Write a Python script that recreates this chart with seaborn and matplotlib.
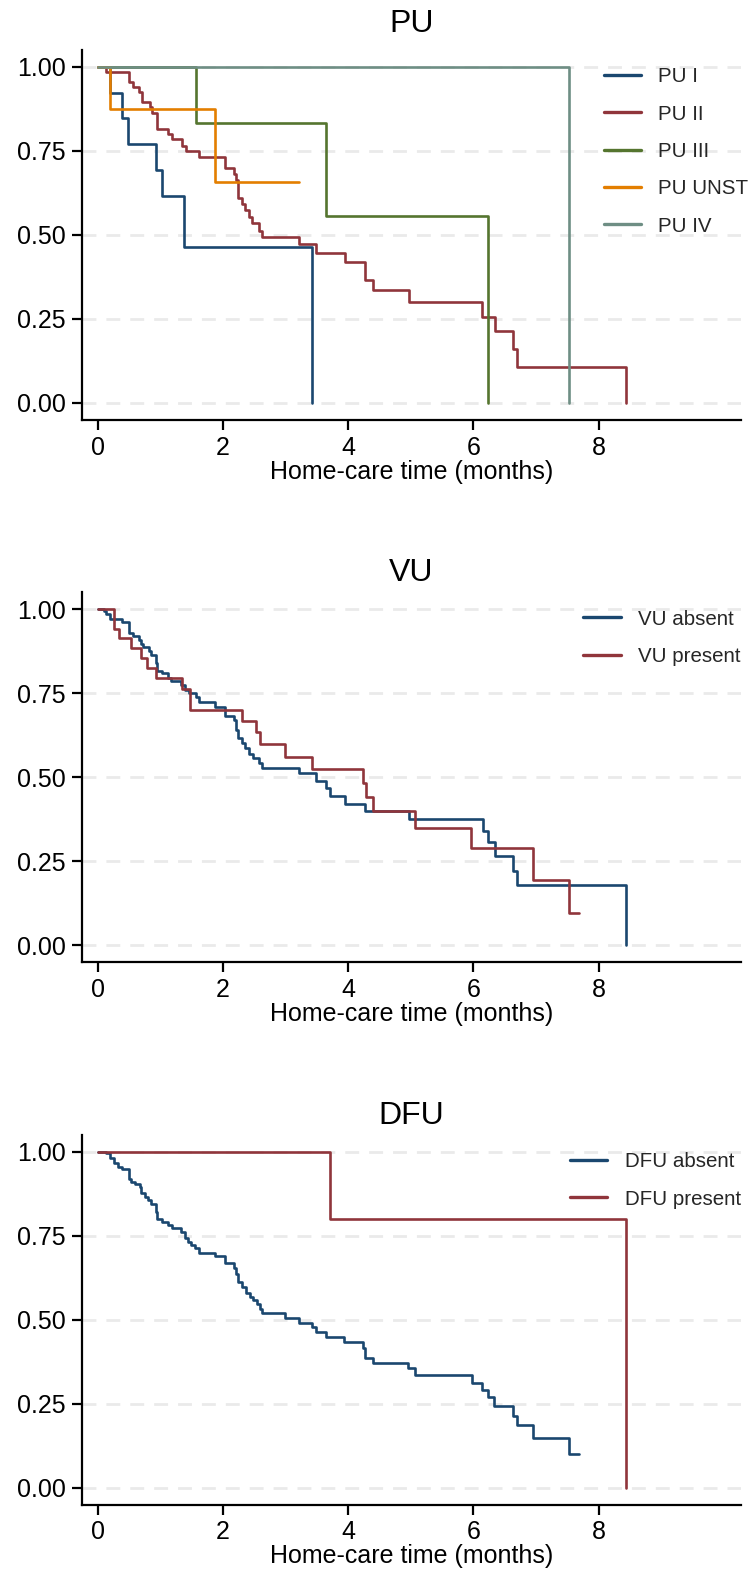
import numpy as np
import pandas as pd
import matplotlib
matplotlib.use("Agg")
import matplotlib.pyplot as plt
import seaborn as sns
from matplotlib.ticker import FormatStrFormatter, FixedLocator

# ---------------- data ----------------
pu1_t = [0, 0.19, 0.39, 0.49, 0.93, 1.02, 1.38, 3.42]
pu1_s = [1, 0.923, 0.846, 0.769, 0.692, 0.615, 0.462, 0]

pu2_t = [0, 0.13, 0.50, 0.56, 0.66, 0.71, 0.83, 0.87, 0.95, 1.12, 1.19, 1.34, 1.41, 1.61,
         2.04, 2.17, 2.21, 2.24, 2.30, 2.36, 2.41, 2.47, 2.57, 2.63, 3.22, 3.49, 3.95,
         4.27, 4.40, 4.97, 6.14, 6.34, 6.63, 6.70, 8.44]
pu2_s = [1, 0.985, 0.955, 0.94, 0.926, 0.896, 0.879, 0.863, 0.815, 0.80, 0.784, 0.764, 0.749, 0.732,
         0.70, 0.68, 0.663, 0.61, 0.59, 0.573, 0.554, 0.534, 0.511, 0.492, 0.471, 0.446, 0.42,
         0.365, 0.335, 0.30, 0.256, 0.213, 0.16, 0.107, 0]

pu3_t = [0, 1.57, 3.65, 6.24]
pu3_s = [1, 0.833, 0.556, 0]

puu_t = [0, 0.20, 1.87, 3.21]
puu_s = [1, 0.875, 0.656, 0.656]

pu4_t = [0, 7.52]
pu4_s = [1, 0]

vua_t = [0, 0.096, 0.138, 0.202, 0.394, 0.50, 0.564, 0.66, 0.686, 0.723, 0.819, 0.856, 0.926,
         0.952, 1.032, 1.122, 1.176, 1.335, 1.388, 1.457, 1.574, 1.612, 1.878, 2.037, 2.17,
         2.213, 2.239, 2.303, 2.356, 2.41, 2.479, 2.569, 2.628, 3.223, 3.489, 3.649, 3.713,
         3.952, 4.277, 4.97, 6.15, 6.24, 6.34, 6.63, 6.69, 8.44]
vua_s = [1, 0.995, 0.985, 0.970, 0.960, 0.929, 0.919, 0.909, 0.897, 0.886, 0.875, 0.863, 0.84,
         0.817, 0.81, 0.796, 0.786, 0.774, 0.759, 0.749, 0.737, 0.724, 0.709, 0.683, 0.67,
         0.64, 0.615, 0.60, 0.585, 0.57, 0.558, 0.543, 0.528, 0.511, 0.489, 0.466, 0.443,
         0.42, 0.40, 0.374, 0.34, 0.306, 0.266, 0.221, 0.179, 0]

vup_t = [0, 0.26, 0.34, 0.53, 0.69, 0.79, 0.93, 1.35, 1.47, 2.30, 2.53, 2.60, 2.99, 3.42,
         4.24, 4.28, 4.40, 5.06, 5.97, 6.96, 7.52, 7.68]
vup_s = [1, 0.942, 0.913, 0.885, 0.855, 0.825, 0.796, 0.762, 0.701, 0.668, 0.633, 0.598, 0.56, 0.523,
         0.483, 0.441, 0.40, 0.347, 0.29, 0.193, 0.096, 0.096]

dfa_t = [0, 0.128, 0.202, 0.261, 0.324, 0.394, 0.50, 0.537, 0.59, 0.67, 0.697, 0.75, 0.803, 0.846,
         0.926, 0.952, 1.032, 1.122, 1.186, 1.335, 1.388, 1.441, 1.495, 1.548, 1.612, 1.878,
         2.037, 2.17, 2.202, 2.239, 2.303, 2.372, 2.426, 2.479, 2.543, 2.585, 2.628, 2.995,
         3.223, 3.42, 3.489, 3.649, 3.94, 4.23, 4.27, 4.40, 4.96, 5.06, 5.98, 6.14, 6.24,
         6.33, 6.63, 6.70, 6.96, 7.52, 7.68]
dfa_s = [1, 0.995, 0.980, 0.965, 0.953, 0.947, 0.920, 0.910, 0.904, 0.894, 0.876, 0.866, 0.856, 0.844,
         0.821, 0.799, 0.791, 0.782, 0.774, 0.762, 0.742, 0.732, 0.722, 0.712, 0.697, 0.69,
         0.67, 0.653, 0.635, 0.613, 0.596, 0.578, 0.568, 0.559, 0.547, 0.532, 0.519, 0.504,
         0.491, 0.479, 0.464, 0.447, 0.433, 0.415, 0.387, 0.372, 0.355, 0.335, 0.3125, 0.29, 0.269,
         0.244, 0.213, 0.185, 0.147, 0.099, 0.099]

dfp_t = [0, 3.71, 8.44]
dfp_s = [1, 0.80, 0]

x_ticks = [0, 2, 4, 6, 8]
y_ticks = [0, 0.25, 0.5, 0.75, 1.0]
x_label = "Home-care time (months)"

NAVY = "#1a476f"
MAROON = "#90353b"
GREEN = "#55752f"
ORANGE = "#e37e00"
TEAL = "#6e8e84"

panels = [
    ("PU", [("PU I", pu1_t, pu1_s, NAVY), ("PU II", pu2_t, pu2_s, MAROON),
            ("PU III", pu3_t, pu3_s, GREEN), ("PU UNST", puu_t, puu_s, ORANGE),
            ("PU IV", pu4_t, pu4_s, TEAL)], 1.012, 13),
    ("VU", [("VU absent", vua_t, vua_s, NAVY), ("VU present", vup_t, vup_s, MAROON)], 1.0, 8),
    ("DFU", [("DFU absent", dfa_t, dfa_s, NAVY), ("DFU present", dfp_t, dfp_s, MAROON)], 1.0, 8),
]

# ---------------- style ----------------
sns.set_theme(style="white")
plt.rcParams["font.family"] = ["Liberation Sans", "DejaVu Sans"]
plt.rcParams["lines.scale_dashes"] = False

fig = plt.figure(figsize=(7.5, 15.76), dpi=100)
bottoms = [0.7335, 0.3894, 0.0451]

for (title, series, leg_x, tpad), b in zip(panels, bottoms):
    ax = fig.add_axes([0.1089, b, 0.8787, 0.2348])
    rows = []
    for name, t, s, c in series:
        for ti, si in zip(t, s):
            rows.append({"time": ti, "surv": si, "group": name})
    df = pd.DataFrame(rows)
    pal = {name: c for name, t, s, c in series}
    sns.lineplot(data=df, x="time", y="surv", hue="group", hue_order=[n for n, *_ in series],
                 palette=pal, drawstyle="steps-post", estimator=None, linewidth=1.9,
                 ax=ax, legend=True)
    ax.set_xlim(-0.256, 10.27)
    ax.set_ylim(-0.0515, 1.05)
    ax.xaxis.set_major_locator(FixedLocator(x_ticks))
    ax.yaxis.set_major_locator(FixedLocator(y_ticks))
    ax.yaxis.set_major_formatter(FormatStrFormatter("%.2f"))
    ax.set_axisbelow(True)
    ax.yaxis.grid(True, color="#EAEAEA", linewidth=2.0, linestyle=(0, (10, 7.2)))
    ax.xaxis.grid(False)
    for sp in ["top", "right"]:
        ax.spines[sp].set_visible(False)
    for sp in ["left", "bottom"]:
        ax.spines[sp].set_color("black")
        ax.spines[sp].set_linewidth(1.6)
    ax.tick_params(axis="both", which="major", direction="out", length=7.2, width=1.6,
                   color="black", labelsize=18, labelcolor="black", left=True, bottom=True)
    ax.tick_params(axis="x", pad=4)
    ax.tick_params(axis="y", pad=4)
    ax.set_xlabel(x_label, fontsize=18, color="black", labelpad=0)
    ax.set_ylabel("")
    ax.set_title(title, fontsize=23, color="black", pad=tpad)
    leg = ax.legend(loc="upper right", bbox_to_anchor=(leg_x, 0.953), frameon=False,
                    fontsize=14.8, handlelength=1.83, handletextpad=0.84,
                    labelspacing=0.89, borderpad=0, borderaxespad=0, title=None)
    for h in leg.get_lines():
        h.set_linewidth(2.4)

fig.savefig("out.png", dpi=100)
